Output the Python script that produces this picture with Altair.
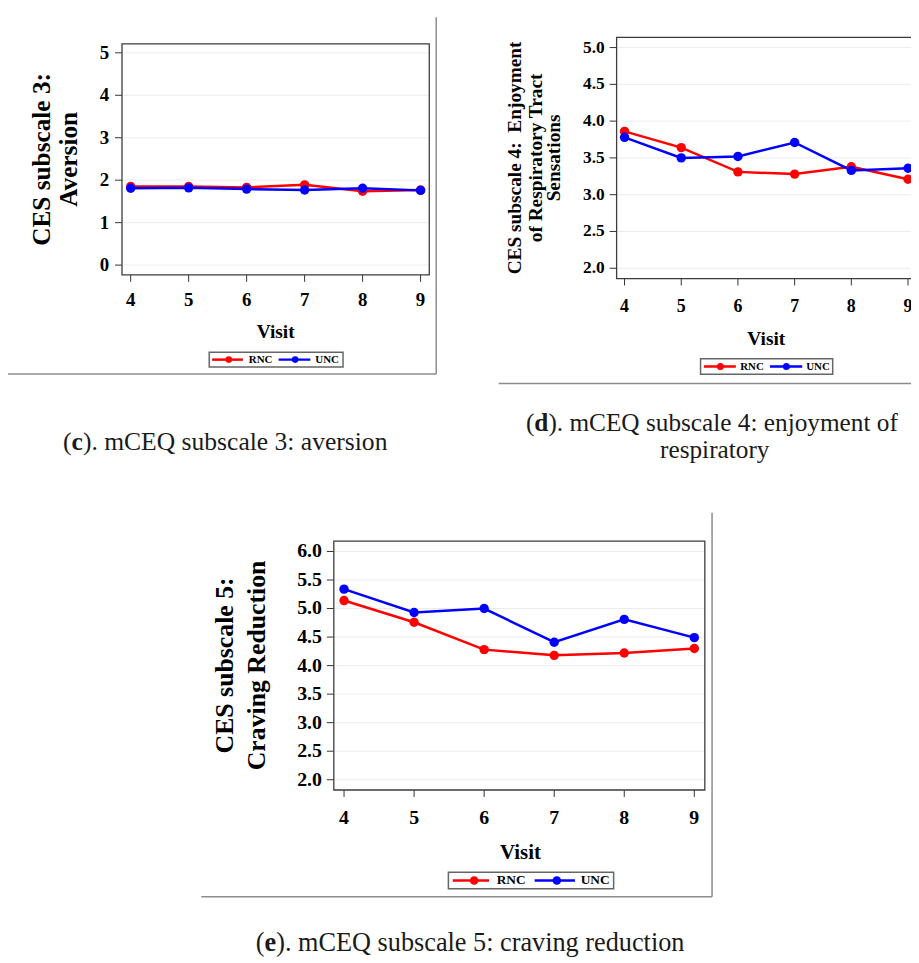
import altair as alt
import pandas as pd

# ---------------- data ----------------
visits = [4, 5, 6, 7, 8, 9]
groups = ["RNC", "UNC"]
group_colors = ["#ff0000", "#0000ff"]

# (c) subscale 3: aversion
c_rnc = [1.85, 1.85, 1.83, 1.89, 1.74, 1.77]
c_unc = [1.81, 1.82, 1.79, 1.77, 1.81, 1.76]
c_ticks = [0, 1, 2, 3, 4, 5]

# (d) subscale 4: enjoyment of respiratory tract sensations
d_rnc = [3.86, 3.64, 3.31, 3.28, 3.38, 3.21]
d_unc = [3.78, 3.50, 3.52, 3.71, 3.33, 3.36]
d_ticks = [2.0, 2.5, 3.0, 3.5, 4.0, 4.5, 5.0]

# (e) subscale 5: craving reduction
e_rnc = [5.14, 4.76, 4.28, 4.18, 4.22, 4.30]
e_unc = [5.34, 4.93, 5.00, 4.41, 4.81, 4.49]
e_ticks = [2.0, 2.5, 3.0, 3.5, 4.0, 4.5, 5.0, 5.5, 6.0]

c_title = ["CES subscale 3:", "Aversion"]
d_title = ["CES subscale 4:\u00a0 Enjoyment", "of Respiratory Tract", "Sensations"]
e_title = ["CES subscale 5:", "Craving Reduction"]
x_title = "Visit"

# ---------------- layout ----------------
W, H = 911, 955
SERIF = "Liberation Serif"
TICK = 7
one = pd.DataFrame({"k": [0]})


def series_df(rnc, unc):
    return pd.DataFrame({
        "visit": visits + visits,
        "value": rnc + unc,
        "group": [groups[0]] * len(visits) + [groups[1]] * len(visits),
    })


def text(s, x, y, size, weight="normal", angle=0, align="center",
         baseline="middle", color="#000000"):
    return alt.Chart(pd.DataFrame({"t": [s]})).mark_text(
        font=SERIF, fontSize=size, fontWeight=weight, angle=angle,
        align=align, baseline=baseline, color=color,
    ).encode(x=alt.value(x), y=alt.value(y), text="t:N")


def panel(rnc, unc, yticks, yfmt, xdom, xrng, ydom, yrng, fs_x, fs_y,
          xlab_base, pad_y, visit_xy, visit_fs, frame_x2):
    x0, x1 = xrng
    yb, yt = yrng
    df = series_df(rnc, unc)
    xsc = alt.Scale(domain=xdom, range=[x0, x1], nice=False, zero=False)
    ysc = alt.Scale(domain=ydom, range=[yb, yt], nice=False, zero=False)
    color = alt.Color("group:N", scale=alt.Scale(domain=groups, range=group_colors),
                      legend=None)
    ydf = pd.DataFrame({"tick": yticks})
    xdf = pd.DataFrame({"visit": visits})

    grid = alt.Chart(ydf).mark_rule(color="#ececec", strokeWidth=1).encode(
        y=alt.Y("tick:Q", scale=ysc, axis=None),
        x=alt.value(x0), x2=alt.value(frame_x2),
    )
    # y axis ticks + labels
    yt_rule = alt.Chart(ydf).mark_rule(color="#333333", strokeWidth=1).encode(
        y=alt.Y("tick:Q", scale=ysc, axis=None),
        x=alt.value(x0 - TICK), x2=alt.value(x0),
    )
    yt_text = alt.Chart(ydf).mark_text(
        font=SERIF, fontWeight="bold", fontSize=fs_y, align="right",
        baseline="middle", color="#000000",
    ).encode(
        y=alt.Y("tick:Q", scale=ysc, axis=None),
        x=alt.value(x0 - TICK - pad_y),
        text=alt.Text("tick:Q", format=yfmt),
    )
    # x axis ticks + labels
    xt_rule = alt.Chart(xdf).mark_rule(color="#333333", strokeWidth=1).encode(
        x=alt.X("visit:Q", scale=xsc, axis=None),
        y=alt.value(yb), y2=alt.value(yb + TICK),
    )
    xt_text = alt.Chart(xdf).mark_text(
        font=SERIF, fontWeight="bold", fontSize=fs_x, align="center",
        baseline="alphabetic", color="#000000",
    ).encode(
        x=alt.X("visit:Q", scale=xsc, axis=None),
        y=alt.value(xlab_base),
        text=alt.Text("visit:Q", format="d"),
    )
    line = alt.Chart(df).mark_line(strokeWidth=2.5).encode(
        x=alt.X("visit:Q", scale=xsc, axis=None),
        y=alt.Y("value:Q", scale=ysc, axis=None),
        color=color,
    )
    pts = alt.Chart(df).mark_point(filled=True, size=90, opacity=1).encode(
        x=alt.X("visit:Q", scale=xsc, axis=None),
        y=alt.Y("value:Q", scale=ysc, axis=None),
        color=color,
    )
    frame = alt.Chart(one).mark_rect(
        fillOpacity=0, stroke="#3c3c3c", strokeWidth=1.3
    ).encode(
        x=alt.value(x0), x2=alt.value(frame_x2),
        y=alt.value(yt), y2=alt.value(yb),
    )
    vis = text(x_title, visit_xy[0], visit_xy[1], visit_fs, weight="bold")
    return alt.layer(grid, yt_rule, yt_text, xt_rule, xt_text, line, pts, frame, vis)


def rule(x, x2, y, y2):
    return alt.Chart(one).mark_rule(color="#8c8c8c", strokeWidth=1.5).encode(
        x=alt.value(x), x2=alt.value(x2), y=alt.value(y), y2=alt.value(y2))


def legend(box, yc, items, fs, dot):
    layers = [alt.Chart(one).mark_rect(
        fill="#ffffff", stroke="#666666", strokeWidth=1.5
    ).encode(x=alt.value(box[0]), x2=alt.value(box[1]),
             y=alt.value(box[2]), y2=alt.value(box[3]))]
    for g, col, (lx0, lx1, dx, tx) in zip(groups, group_colors, items):
        gdf = pd.DataFrame({"g": [g]})
        layers.append(alt.Chart(gdf).mark_rule(color=col, strokeWidth=2.5).encode(
            x=alt.value(lx0), x2=alt.value(lx1), y=alt.value(yc)))
        layers.append(alt.Chart(gdf).mark_point(
            filled=True, opacity=1, size=dot, color=col
        ).encode(x=alt.value(dx), y=alt.value(yc)))
        layers.append(alt.Chart(gdf).mark_text(
            font=SERIF, fontSize=fs, fontWeight="bold", align="left",
            baseline="middle", color="#000000"
        ).encode(x=alt.value(tx), y=alt.value(yc), text="g:N"))
    return layers


def caption(letter, rest, left, base, fs):
    # "(" regular, letter bold, rest regular (Times metrics)
    return [
        text("(", left, base, fs, align="left", baseline="alphabetic", color="#1a1a1a"),
        text(letter, left + 0.333 * fs, base, fs, weight="bold", align="left",
             baseline="alphabetic", color="#1a1a1a"),
        text(rest, left + 0.333 * fs + {"c": 0.444, "d": 0.556, "e": 0.444}[letter] * fs,
             base, fs, align="left", baseline="alphabetic", color="#1a1a1a"),
    ]


pc = panel(c_rnc, c_unc, c_ticks, "d", [3.85, 9.15], [115, 425], [-0.23, 5.21],
           [265, 32], 19, 19, 296.5, 6, (270, 323), 19.5, 425)
pd_ = panel(d_rnc, d_unc, d_ticks, ".1f", [3.86, 9.14], [614, 916], [1.86, 5.14],
            [268.7, 25.3], 18, 17.5, 302, 5, (765, 330), 19.5, 916)
pe = panel(e_rnc, e_unc, e_ticks, ".1f", [3.854, 9.15], [328.7, 703], [1.82, 6.18],
           [784.7, 533.7], 20, 20, 819.5, 5, (517, 848), 21, 703)

deco = [
    rule(432, 432, 5, 365), rule(0, 432, 365, 365),
    rule(495, 911, 374.7, 374.7),
    rule(710.3, 710.3, 505, 892.5), rule(195, 710.3, 892.5, 892.5),
]

titles = []
for s, x in zip(c_title, [34, 62]):
    titles.append(text(s, x, 148.5, 25.5, weight="bold", angle=270))
for s, x in zip(d_title, [512, 533, 551]):
    titles.append(text(s, x, 147, 19.5, weight="bold", angle=270))
for s, x in zip(e_title, [219, 251]):
    titles.append(text(s, x, 659, 26, weight="bold", angle=270))

legends = (
    legend((203, 338, 343, 358), 350.5,
           [(206, 237, 222.7, 243), (273, 305, 289.7, 310)], 11, 45)
    + legend((698.7, 832, 349.7, 365.3), 357.5,
             [(702, 734.3, 718.7, 738.7), (768.7, 801.3, 785.3, 805.3)], 11, 50)
    + legend((444.3, 611, 867.7, 884.3), 876,
             [(448.7, 485.3, 470.3, 493), (531.3, 572, 553.7, 577.7)], 13.5, 75)
)

caps = (
    caption("c", "). mCEQ subscale 3: aversion", 55.5, 441.3, 25.8)
    + caption("d", "). mCEQ subscale 4: enjoyment of", 522.5, 423, 25.5)
    + [text("respiratory", 713, 450, 25.5, baseline="alphabetic", color="#1a1a1a")]
    + caption("e", "). mCEQ subscale 5: craving reduction", 250, 947, 26.5)
)

chart = alt.layer(
    *deco, pc, pd_, pe, *titles, *legends, *caps
).resolve_scale(
    x="independent", y="independent"
).properties(
    width=W, height=H, padding=0, background="#ffffff",
    autosize=alt.AutoSizeParams(type="none"),
).configure_view(strokeWidth=0)

chart.save("out.html", embed_options={"renderer": "svg", "actions": False})
